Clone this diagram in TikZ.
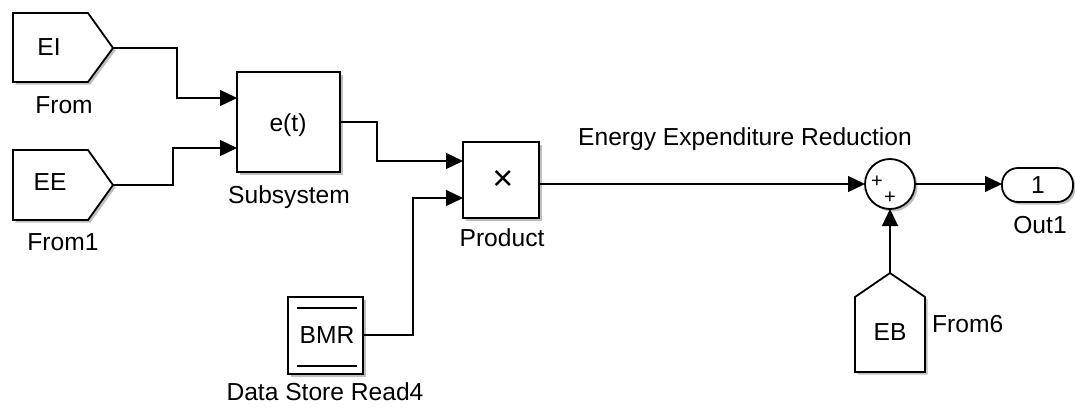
\documentclass[tikz,border=0pt]{standalone}
\usepackage{fontspec}
\setmainfont{Liberation Sans}
\usetikzlibrary{arrows.meta,shadows}
\begin{document}
\begin{tikzpicture}[x=1pt,y=-1pt,
  blk/.style={draw=black, line width=1.8pt, fill=white,
    drop shadow={shadow xshift=2.5pt, shadow yshift=-2.5pt, fill=black!25, opacity=1}},
  wire/.style={draw=black, line width=1.3pt},
  arr/.style={wire,-{Triangle[length=17pt,width=16pt]}},
  lbl/.style={inner sep=0pt, anchor=base, font=\fontsize{24.6}{28}\selectfont},
  pls/.style={inner sep=0pt, font=\fontsize{20}{20}\selectfont},
]
\useasboundingbox (0,0) rectangle (1075,408);

% ---- From (EI)
\path[blk] (13,13) -- (88,13) -- (113,48) -- (88,82) -- (13,82) -- cycle;
\coordinate (eiout) at (113,48);
\node[lbl] (eitxt) at (49,55) {EI};
\node[lbl] (eilbl) at (64,113) {From};

% ---- From1 (EE)
\path[blk] (13,150) -- (88,150) -- (113,185) -- (88,220) -- (13,220) -- cycle;
\coordinate (eeout) at (113,185);
\node[lbl] (eetxt) at (50,190) {EE};
\node[lbl] (eelbl) at (63,250) {From1};

% ---- Subsystem
\node[blk, minimum width=103pt, minimum height=100pt, inner sep=0pt] (sub) at (288.5,122) {};
\node[lbl] (subtxt) at (288,131) {e(t)};
\node[lbl] (sublbl) at (289,203) {Subsystem};
\coordinate (subin1) at (237,98);
\coordinate (subin2) at (237,148);
\coordinate (subout) at (340,122);

% ---- Product
\node[blk, minimum width=76pt, minimum height=76pt, inner sep=0pt] (prod) at (501,180) {};
\node[inner sep=0pt, font=\fontsize{36}{36}\selectfont] (prodtxt) at (503,180) {×};
\node[lbl] (prodlbl) at (502,246) {Product};
\coordinate (prodin1) at (463,161);
\coordinate (prodin2) at (463,198);
\coordinate (prodout) at (539,184);

% ---- Data Store Read4 (BMR)
\node[blk, minimum width=75pt, minimum height=77pt, inner sep=0pt] (bmr) at (325.5,335.5) {};
\draw[line width=2pt] (297,308) -- (357,308);
\draw[line width=2pt] (297,366) -- (357,366);
\node[lbl] (bmrtxt) at (327,343) {BMR};
\node[lbl] (bmrlbl) at (325,400) {Data Store Read4};
\coordinate (bmrout) at (363,335);

% ---- Sum
\node[blk, circle, minimum size=50pt, inner sep=0pt] (sum) at (890,184) {};
\node[pls] (p1) at (877,182) {+};
\node[pls] (p2) at (890,198) {+};
\coordinate (sumin1) at (865,184);
\coordinate (sumin2) at (890,209);
\coordinate (sumout) at (915,184);

% ---- Out1
\draw[blk, rounded corners=16pt] (1002,168) rectangle (1073,202);
\node[lbl] (outtxt) at (1038,193) {1};
\node[lbl] (outlbl) at (1040,233) {Out1};
\coordinate (outin) at (1002,184);

% ---- From6 (EB)
\path[blk] (855,372) -- (855,297) -- (890,273) -- (925,297) -- (925,372) -- cycle;
\coordinate (ebout) at (890,273);
\node[lbl] (ebtxt) at (890,340) {EB};
\node[lbl, anchor=base west] (eblbl) at (932,332) {From6};

% ---- signal label
\node[lbl, anchor=base west] (siglbl) at (578,145) {Energy Expenditure Reduction};

% ---- connectors
\draw[arr] (eiout) -- ++(64,0) |- (subin1);
\draw[arr] (eeout) -- ++(60,0) |- (subin2);
\draw[arr] (subout) -- ++(37,0) |- (prodin1);
\draw[arr] (bmrout) -- ++(50,0) |- (prodin2);
\draw[arr] (prodout) -- (sumin1);
\draw[arr] (ebout) -- (sumin2);
\draw[arr] (sumout) -- (outin);
\end{tikzpicture}
\end{document}
